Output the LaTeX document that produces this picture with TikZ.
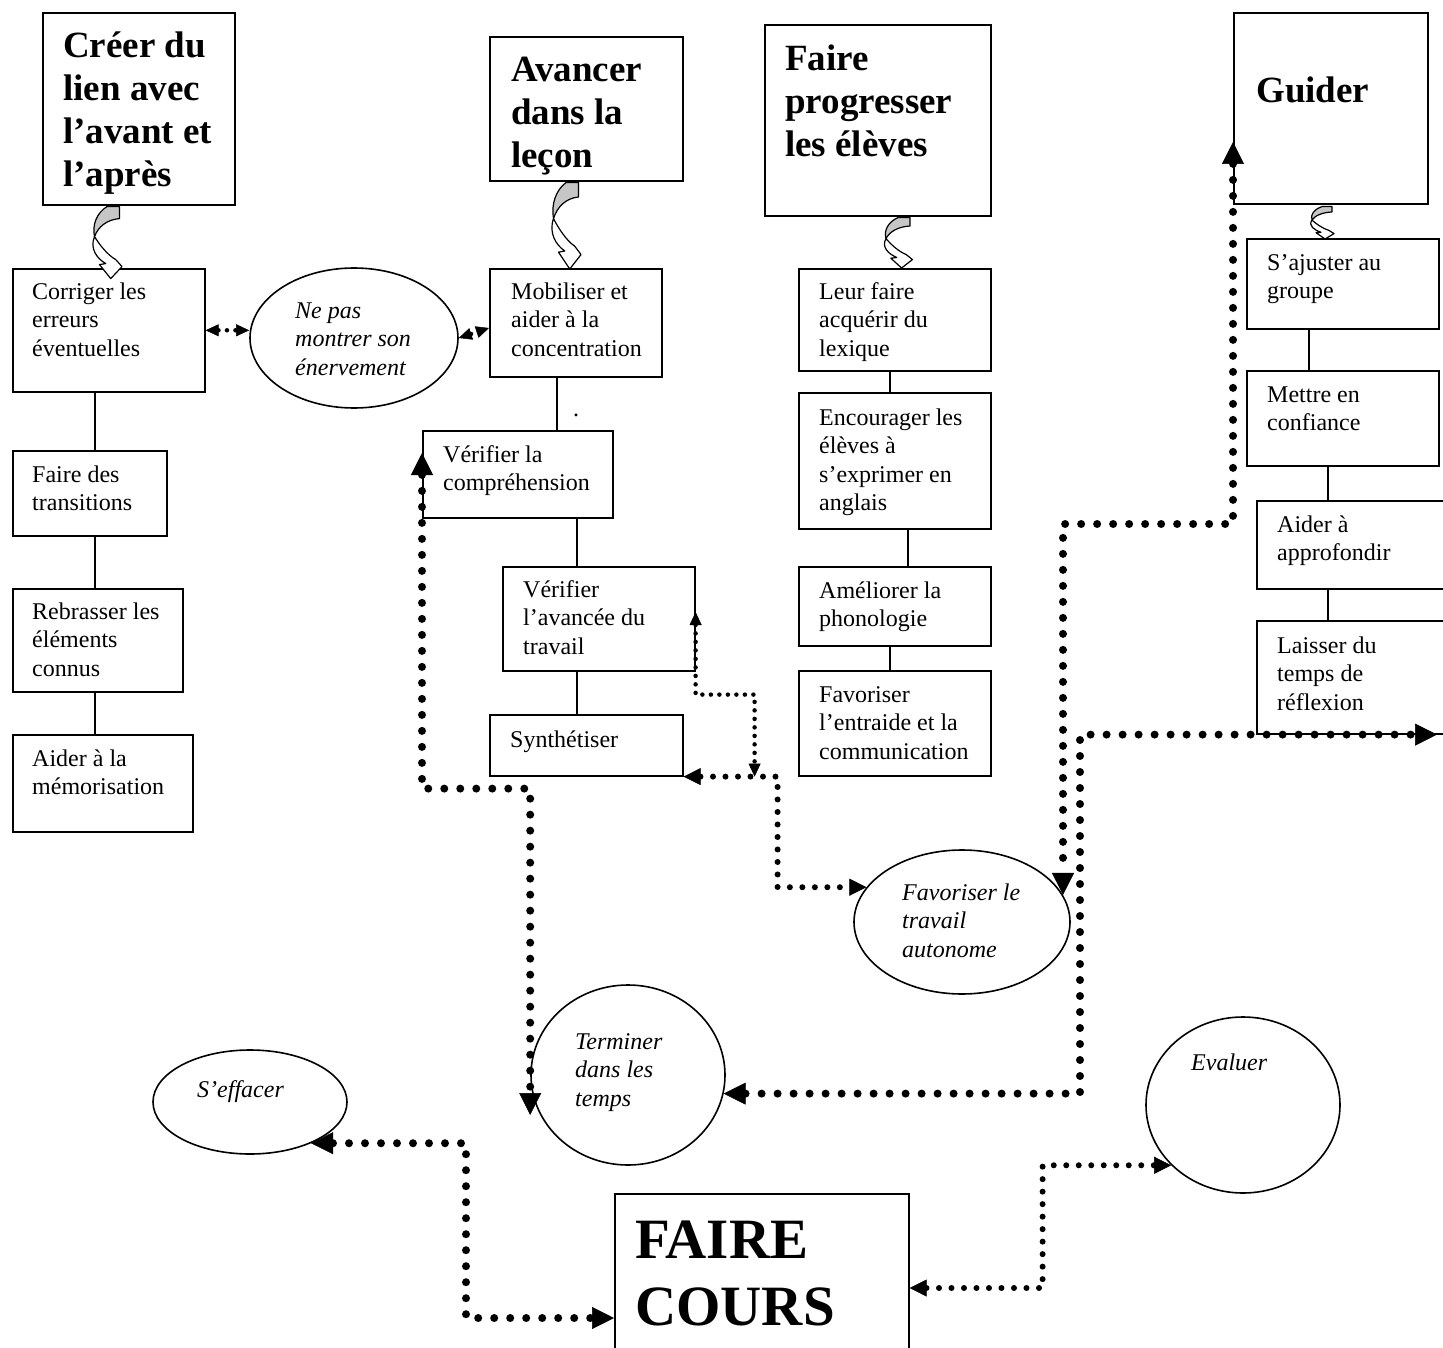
\documentclass[tikz,border=0pt]{standalone}
\usepackage{fontspec}
\setmainfont{Liberation Serif}
\usetikzlibrary{shapes.geometric,arrows.meta,calc}
\tikzset{
  box/.style={draw, line width=1.6pt, rectangle, inner sep=0pt, anchor=north west},
  ell/.style={draw, line width=1.6pt, ellipse, inner sep=0pt},
  body/.style={inner sep=0pt, anchor=north west, align=left, font=\fontsize{24}{28.5}\selectfont, yshift=19.95pt},
  ital/.style={inner sep=0pt, anchor=north west, align=left, font=\fontsize{24}{28.5}\selectfont\itshape, yshift=19.95pt},
  title/.style={inner sep=0pt, anchor=north west, align=left, font=\fontsize{37}{43}\selectfont\bfseries, yshift=30.1pt},
  huge/.style={inner sep=0pt, anchor=north west, align=left, font=\fontsize{57}{67}\selectfont\bfseries, yshift=46.9pt},
  link/.style={line width=1.5pt},
  tb/.tip={Triangle[length=22pt,width=22pt,line width=0.5pt]},
  tm/.tip={Triangle[length=17pt,width=17pt,line width=0.5pt]},
  ts/.tip={Triangle[length=13pt,width=12pt,line width=0.5pt]},
  dotbig/.style={line width=8pt, dash pattern=on 0pt off 16pt, line cap=round, arrows={tb-tb}},
  dotmid/.style={line width=6pt, dash pattern=on 0pt off 12.5pt, line cap=round, arrows={tm-tm}},
  dotsmall/.style={line width=4.5pt, dash pattern=on 0pt off 8.5pt, line cap=round, arrows={ts-ts}},
  curlgray/.style={fill=gray!45, draw, line width=1.2pt, line join=round},
  curlwhite/.style={fill=white, draw, line width=1.2pt, line join=round}
}
% #1 name, #2 x, #3 y, #4 w, #5 h, #6 text style, #7 text x, #8 baseline, #9 text
\newcommand{\tbox}[9]{%
  \node[box, minimum width=#4pt, minimum height=#5pt] (#1) at (#2,#3) {};
  \node[#6] (#1t) at (#7,#8) {\strut #9};}
% #1 name, #2 cx, #3 cy, #4 w, #5 h, #6 text x, #7 baseline, #8 text
\newcommand{\tell}[8]{%
  \node[ell, minimum width=#4pt, minimum height=#5pt] (#1) at (#2,#3) {};
  \node[ital] (#1t) at (#6,#7) {\strut #8};}
% #1 point, #2 xscale, #3 yscale
\newcommand{\curlyarr}[3]{%
  \begin{scope}[shift={#1}, xscale=#2, yscale=#3]
    \path[curlwhite] (-10,30) .. controls (-14,42) and (-8,52) .. (-1,57) -- (-6,58) -- (3,72) -- (12,60) -- (7,53) .. controls (0,48) and (-6,38) .. cycle;
    \path[curlgray] (0,0) -- (10,0) -- (10,12) .. controls (0,13) and (-7,20) .. (-10,30) .. controls (-12,18) and (-8,6) .. cycle;
  \end{scope}}

\begin{document}
\begin{tikzpicture}[x=1pt, y=-1pt]
\useasboundingbox (0,0) rectangle (1443,1348);
\clip (0,0) rectangle (1443,1348);
\fill[white] (0,0) rectangle (1443,1348);

% title boxes
\tbox{creer}{42}{12}{192}{192}{title}{63}{57}{Créer du\\lien avec\\l’avant et\\l’après}
\tbox{avancer}{489}{36}{193}{144}{title}{511}{81}{Avancer\\dans la\\leçon}
\tbox{faire}{764}{24}{226}{191}{title}{785}{70}{Faire\\progresser\\les élèves}
\tbox{guider}{1233}{12}{194}{191}{title}{1256}{102}{Guider}

% left column
\tbox{corr}{12}{268}{192}{123}{body}{32}{299}{Corriger les\\erreurs\\éventuelles}
\tbox{trans}{12}{450}{154}{85}{body}{32}{482}{Faire des\\transitions}
\tbox{rebr}{12}{588}{170}{103}{body}{32}{619}{Rebrasser les\\éléments\\connus}
\tbox{memo}{12}{734}{180}{97}{body}{32}{766}{Aider à la\\mémorisation}

% middle column
\tbox{mobil}{489}{268}{172}{108}{body}{511}{299}{Mobiliser et\\aider à la\\concentration}
\tbox{vcomp}{422}{430}{190}{87}{body}{443}{462}{Vérifier la\\compréhension}
\tbox{vav}{502}{566}{192}{104}{body}{523}{597}{Vérifier\\l’avancée du\\travail}
\tbox{synth}{489}{714}{193}{61}{body}{510}{747}{Synthétiser}
\node[body] (dotmark) at (573,416) {\strut .};

% faire progresser column
\tbox{lex}{798}{268}{192}{102}{body}{819}{299}{Leur faire\\acquérir du\\lexique}
\tbox{enc}{798}{392}{192}{136}{body}{819}{425}{Encourager les\\élèves à\\s’exprimer en\\anglais}
\tbox{phon}{798}{566}{192}{79}{body}{819}{598}{Améliorer la\\phonologie}
\tbox{entr}{798}{670}{192}{105}{body}{819}{702}{Favoriser\\l’entraide et la\\communication}

% right column
\tbox{ajus}{1246}{238}{192}{90}{body}{1267}{270}{S’ajuster au\\groupe}
\tbox{conf}{1246}{370}{192}{95}{body}{1267}{402}{Mettre en\\confiance}
\tbox{appr}{1256}{500}{200}{88}{body}{1277}{532}{Aider à\\approfondir}
\tbox{lais}{1256}{620}{200}{113}{body}{1277}{653}{Laisser du\\temps de\\réflexion}

% bottom box
\tbox{fcours}{614}{1193}{294}{180}{huge}{635}{1258}{FAIRE\\COURS}

% ellipses
\tell{nepas}{354}{338}{208}{140}{295}{318}{Ne pas\\montrer son\\énervement}
\tell{fav}{962}{922}{216}{144}{902}{900}{Favoriser le\\travail\\autonome}
\tell{term}{628}{1075}{194}{180}{575}{1049}{Terminer\\dans les\\temps}
\tell{seff}{250}{1102}{194}{104}{197}{1097}{S’effacer}
\tell{eval}{1243}{1105}{194}{176}{1191}{1070}{Evaluer}

% curly arrows
\curlyarr{($(creer.south west)+(65,1)$)}{1.25}{1}
\curlyarr{($(avancer.south west)+(77,1)$)}{1.25}{1.2}
\curlyarr{($(faire.south west)+(134,1)$)}{1.2}{0.7}
\curlyarr{($(guider.south west)+(89,2)$)}{1}{0.45}

% solid links
\draw[link] ($(corr.south west)+(83,0)$) -- ($(trans.north west)+(83,0)$);
\draw[link] ($(trans.south west)+(83,0)$) -- ($(rebr.north west)+(83,0)$);
\draw[link] ($(rebr.south west)+(83,0)$) -- ($(memo.north west)+(83,0)$);
\draw[link] ($(mobil.south west)+(68,0)$) -- ($(vcomp.north west)+(135,0)$);
\draw[link] ($(vcomp.south west)+(155,0)$) -- ($(vav.north west)+(75,0)$);
\draw[link] ($(vav.south west)+(75,0)$) -- ($(synth.north west)+(88,0)$);
\draw[link] ($(lex.south west)+(92,0)$) -- ($(enc.north west)+(92,0)$);
\draw[link] ($(enc.south west)+(110,0)$) -- ($(phon.north west)+(110,0)$);
\draw[link] ($(phon.south west)+(92,0)$) -- ($(entr.north west)+(92,0)$);
\draw[link] ($(ajus.south west)+(63,0)$) -- ($(conf.north west)+(63,0)$);
\draw[link] ($(conf.south west)+(82,0)$) -- ($(appr.north west)+(72,0)$);
\draw[link] ($(appr.south west)+(72,0)$) -- ($(lais.north west)+(72,0)$);

% dotted connectors
\draw[dotsmall] (corr.east) -- (corr.east -| nepas.west);
\draw[dotsmall] (nepas.east) -- ($(mobil.north west)+(0,60)$);
\draw[dotbig] ($(vcomp.north west)+(0,23)$) -- ($(vcomp.south west)+(0,270)$) -| ($(term.west)+(0,40)$);
\coordinate (j1) at ($(synth.south east)+(71,0)$);
\draw[dotsmall] ($(vav.north east)+(0,46)$) -- ($(vav.south east)+(0,23)$) -| (j1);
\draw[dotmid] (synth.south east) -- ++(94,0) |- (fav.160);
\draw[dotbig] ($(guider.north west)+(0,130)$) -- ($(guider.north west)+(0,512)$) -| (fav.15);
\coordinate (offR) at ($(lais.south west)+(181,0)$);
\draw[dotbig] (term.-11) -| ($(lais.south west)+(-176,0)$) -- (offR);
\draw[dotbig] (seff.-34) -| ($(fcours.north west)+(-148,125)$) -- ($(fcours.north west)+(0,125)$);
\draw[dotmid] ($(fcours.north east)+(0,95)$) -- ++(133,0) |- (eval.220);
\end{tikzpicture}
\end{document}
